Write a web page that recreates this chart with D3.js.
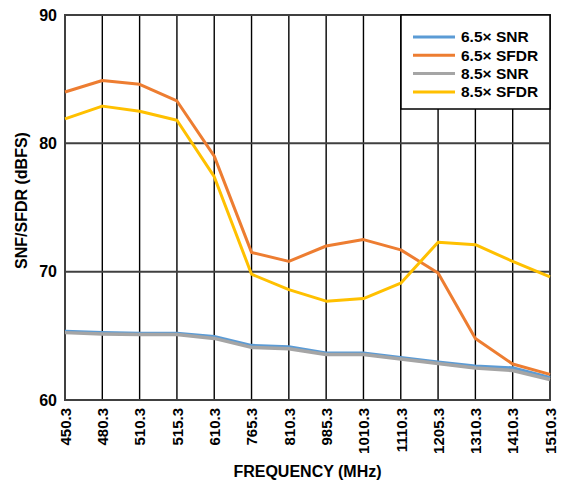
<!DOCTYPE html>
<html>
<head>
  <meta charset="utf-8">
  <title>SNR / SFDR vs Frequency</title>
  <script src="https://d3js.org/d3.v7.min.js"></script>
  <style>
    body { margin: 0; background: #fff; }
    svg text { font-family: "Liberation Sans", Arial, sans-serif; font-weight: bold; fill: #000; }
  </style>
</head>
<body>
<svg class="svgchart" width="561" height="485"></svg>

<script>

var categories = ["450.3", "480.3", "510.3", "515.3", "610.3", "765.3", "810.3",
                  "985.3", "1010.3", "1110.3", "1205.3", "1310.3", "1410.3", "1510.3"];

var snr65  = [65.35, 65.25, 65.2, 65.2, 64.95, 64.25, 64.15, 63.65, 63.65, 63.3, 62.95, 62.65, 62.5, 61.75];
var sfdr65 = [84.0, 84.9, 84.6, 83.3, 79.0, 71.5, 70.8, 72.0, 72.5, 71.7, 69.9, 64.8, 62.8, 62.0];
var snr85  = [65.25, 65.15, 65.1, 65.1, 64.8, 64.1, 64.0, 63.55, 63.55, 63.2, 62.85, 62.5, 62.3, 61.6];
var sfdr85 = [81.9, 82.9, 82.5, 81.8, 77.4, 69.8, 68.6, 67.7, 67.9, 69.1, 72.3, 72.1, 70.8, 69.6];

var yTicks = [60, 70, 80, 90];

var series = [
  {name: "6.5\u00d7 SNR",  values: snr65,  color: "#5b9bd5", width: 3.2},
  {name: "6.5\u00d7 SFDR", values: sfdr65, color: "#ed7d31", width: 3},
  {name: "8.5\u00d7 SNR",  values: snr85,  color: "#a5a5a5", width: 3.5},
  {name: "8.5\u00d7 SFDR", values: sfdr85, color: "#ffc000", width: 3}
];

var margin = {top: 15, right: 11, bottom: 85, left: 65},
    width = 561 - margin.left - margin.right,
    height = 485 - margin.top - margin.bottom;

var svg = d3.select(".svgchart");

var chart = svg.append("g")
    .attr("transform", "translate(" + margin.left + "," + margin.top + ")");

var x = d3.scalePoint()
    .domain(categories)
    .range([0, width]);

var y = d3.scaleLinear()
    .domain([60, 90])
    .range([height, 0]);

// vertical grid at every category
chart.append("g")
  .selectAll("line")
  .data(categories)
  .enter().append("line")
    .attr("x1", function(d) { return x(d); })
    .attr("x2", function(d) { return x(d); })
    .attr("y1", 0)
    .attr("y2", height)
    .attr("stroke", "#000")
    .attr("stroke-width", 1.4);

// horizontal grid
chart.append("g")
  .selectAll("line")
  .data(yTicks.slice(1, -1))
  .enter().append("line")
    .attr("x1", 0)
    .attr("x2", width)
    .attr("y1", function(d) { return y(d); })
    .attr("y2", function(d) { return y(d); })
    .attr("stroke", "#404040")
    .attr("stroke-width", 2);

// frame
chart.append("rect")
    .attr("width", width)
    .attr("height", height)
    .attr("fill", "none")
    .attr("stroke", "#404040")
    .attr("stroke-width", 2);

// y axis labels
var yAxis = chart.append("g")
    .call(d3.axisLeft(y).tickValues(yTicks).tickSize(0).tickPadding(8));
yAxis.select(".domain").remove();
yAxis.selectAll("text")
    .style("font-size", "16px")
    .attr("font-family", null);

// x axis labels, rotated
var xAxis = chart.append("g")
    .attr("transform", "translate(0," + height + ")")
    .call(d3.axisBottom(x).tickSize(0).tickPadding(0));
xAxis.select(".domain").remove();
xAxis.selectAll("text")
    .style("font-size", "15px")
    .style("text-anchor", "end")
    .attr("x", -8)
    .attr("y", 0)
    .attr("dy", "0.35em")
    .attr("transform", "rotate(-90)");

var line = d3.line()
    .x(function(d, i) { return x(categories[i]); })
    .y(function(d) { return y(d); });

chart.selectAll(".series")
    .data(series)
  .enter().append("path")
    .attr("class", "series")
    .attr("d", function(d) { return line(d.values); })
    .attr("fill", "none")
    .attr("stroke", function(d) { return d.color; })
    .attr("stroke-width", function(d) { return d.width; })
    .attr("stroke-linejoin", "round");

// legend box
var legend = chart.append("g")
    .attr("transform", "translate(" + (width - 149) + ",0)");

legend.append("rect")
    .attr("width", 149)
    .attr("height", 94)
    .attr("fill", "#fff")
    .attr("stroke", "#000")
    .attr("stroke-width", 1.5);

var item = legend.selectAll(".item")
    .data(series)
  .enter().append("g")
    .attr("class", "item")
    .attr("transform", function(d, i) { return "translate(0," + (22 + i * 18.3) + ")"; });

item.append("line")
    .attr("x1", 12)
    .attr("x2", 54)
    .attr("stroke", function(d) { return d.color; })
    .attr("stroke-width", 3);

item.append("text")
    .attr("x", 60)
    .attr("dy", "0.35em")
    .style("font-size", "15.5px")
    .text(function(d) { return d.name; });

// axis titles
chart.append("text")
    .attr("x", width / 2)
    .attr("y", height + 77)
    .attr("text-anchor", "middle")
    .style("font-size", "16px")
    .text("FREQUENCY (MHz)");

chart.append("text")
    .attr("transform", "rotate(-90)")
    .attr("x", -height / 2 + 7)
    .attr("y", -38)
    .attr("text-anchor", "middle")
    .style("font-size", "16px")
    .text("SNF/SFDR (dBFS)");

</script>
</body>
</html>
